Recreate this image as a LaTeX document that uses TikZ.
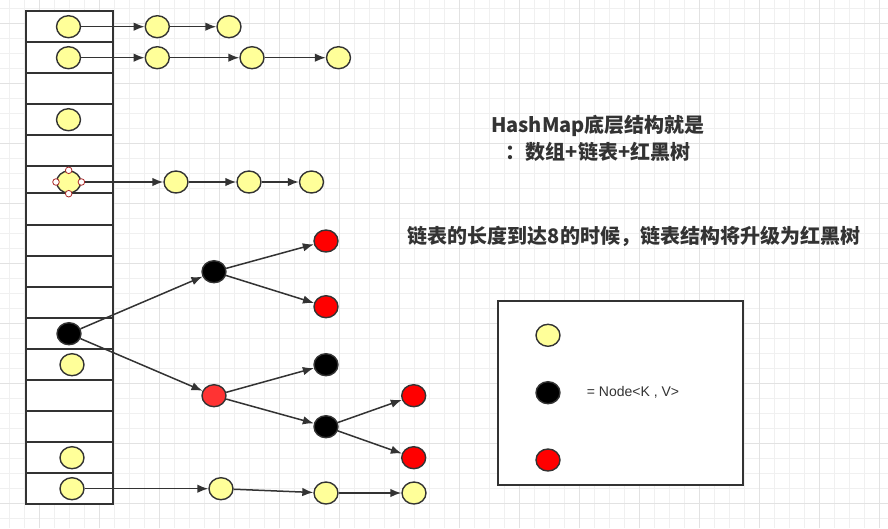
\documentclass[tikz,border=0pt]{standalone}
\usepackage{fontspec}
\setmainfont{Liberation Sans}
\newfontfamily\cjk{Noto Sans CJK SC}
\usetikzlibrary{arrows.meta}
\usetikzlibrary{shapes.geometric}
\definecolor{nodeyellow}{RGB}{255,255,153}
\definecolor{nodered}{RGB}{255,0,0}
\definecolor{nodelightred}{RGB}{255,51,51}
\definecolor{linegray}{RGB}{51,51,51}
\definecolor{gridminor}{RGB}{240,240,240}
\definecolor{gridmajor}{RGB}{226,226,226}
\definecolor{handlered}{RGB}{170,40,40}

\begin{document}
\begin{tikzpicture}[x=1pt,y=-1pt,
  entry/.style={ellipse, draw=linegray, line width=1.4pt, minimum width=24pt, minimum height=22pt, inner sep=0pt},
  ynode/.style={entry, fill=nodeyellow},
  bnode/.style={entry, fill=black},
  rnode/.style={entry, fill=nodered},
  lrnode/.style={entry, fill=nodelightred},
  link/.style={draw=linegray, line width=1.5pt, -{Latex[length=11pt,width=8.5pt]}},
  boxline/.style={draw=linegray, line width=2pt},
  handle/.style={draw=handlered, fill=white, line width=0.8pt},
  title/.style={text=linegray, font=\cjk\bfseries\fontsize{20}{26.7}\selectfont, inner sep=0pt}]
\useasboundingbox (0,0) rectangle (888,528);
\fill[white] (0,0) rectangle (888,528);

% background grid
\foreach \gx in {9,24,...,879} \draw[gridminor, line width=1pt] (\gx,0) -- (\gx,528);
\foreach \gy in {8,23,...,518} \draw[gridminor, line width=1pt] (0,\gy) -- (888,\gy);
\foreach \gx in {39,99,...,879} \draw[gridmajor, line width=1pt] (\gx,0) -- (\gx,528);
\foreach \gy in {23,83,...,503} \draw[gridmajor, line width=1pt] (0,\gy) -- (888,\gy);

% hash table array
\draw[boxline, fill=white] (26,11) rectangle (113,503.7);
\foreach \ry in {42,72.7,103.7,134.7,165.7,193.3,224.7,256,287,317.7,348.7,380,410.7,441.7,472.7}
  \draw[boxline] (26,\ry) -- (113,\ry);

% linked lists
\node[ynode] (A0) at (68.5,26.7) {};
\node[ynode] (A1) at (157.3,26.7) {};
\node[ynode] (A2) at (229,26.7) {};
\draw[link] (A0) -- (A1);
\draw[link] (A1) -- (A2);

\node[ynode] (B0) at (68.5,57.7) {};
\node[ynode] (B1) at (157.3,57.7) {};
\node[ynode] (B2) at (252,57.7) {};
\node[ynode] (B3) at (338.5,57.7) {};
\draw[link] (B0) -- (B1);
\draw[link] (B1) -- (B2);
\draw[link] (B2) -- (B3);

\node[ynode] (E0) at (68.5,119.7) {};

\node[ynode] (C0) at (68.7,182) {};
\node[ynode] (C1) at (176,182) {};
\node[ynode] (C2) at (249,182) {};
\node[ynode] (C3) at (311.5,182) {};
\draw[link] (C0) -- (C1);
\draw[link] (C1) -- (C2);
\draw[link] (C2) -- (C3);
\foreach \a in {north,south,east,west} \draw[handle] (C0.\a) circle (3.3pt);

% red-black tree
\node[bnode] (R) at (69,333.7) {};
\node[bnode] (T1) at (214,271.7) {};
\node[lrnode] (T2) at (214,395.7) {};
\node[rnode] (L1) at (326,241) {};
\node[rnode] (L2) at (326,306.7) {};
\node[bnode] (T3) at (326,364.7) {};
\node[bnode] (T4) at (326,426.7) {};
\node[rnode] (L3) at (413.7,395.7) {};
\node[rnode] (L4) at (413.7,457.7) {};
\draw[link] (R) -- (T1);
\draw[link] (R) -- (T2);
\draw[link] (T1) -- (L1);
\draw[link] (T1) -- (L2);
\draw[link] (T2) -- (T3);
\draw[link] (T2) -- (T4);
\draw[link] (T4) -- (L3);
\draw[link] (T4) -- (L4);

\node[ynode] (F0) at (72,364.7) {};
\node[ynode] (G0) at (72,457.7) {};

\node[ynode] (D0) at (72,488.7) {};
\node[ynode] (D1) at (221,488.7) {};
\node[ynode] (D2) at (326,493) {};
\node[ynode] (D3) at (414,493) {};
\draw[link] (D0) -- (D1);
\draw[link] (D1) -- (D2);
\draw[link] (D2) -- (D3);

% texts
\node[title, align=center] (head) at (598,138.3) {HashMap底层结构就是\\：数组+链表+红黑树};
\node[title] (note) at (634,236.7) {链表的长度到达8的时候，链表结构将升级为红黑树};

% legend
\draw[boxline, fill=white] (498,301) rectangle (743.3,485);
\node[ynode] (K1) at (548,335.3) {};
\node[bnode] (K2) at (548,392.7) {};
\node[rnode] (K3) at (548,460) {};
\node[anchor=west, text=linegray, font=\fontsize{14}{16}\selectfont, inner sep=0pt] (keytext) at (586.7,392.7) {= Node<K , V>};
\end{tikzpicture}
\end{document}
